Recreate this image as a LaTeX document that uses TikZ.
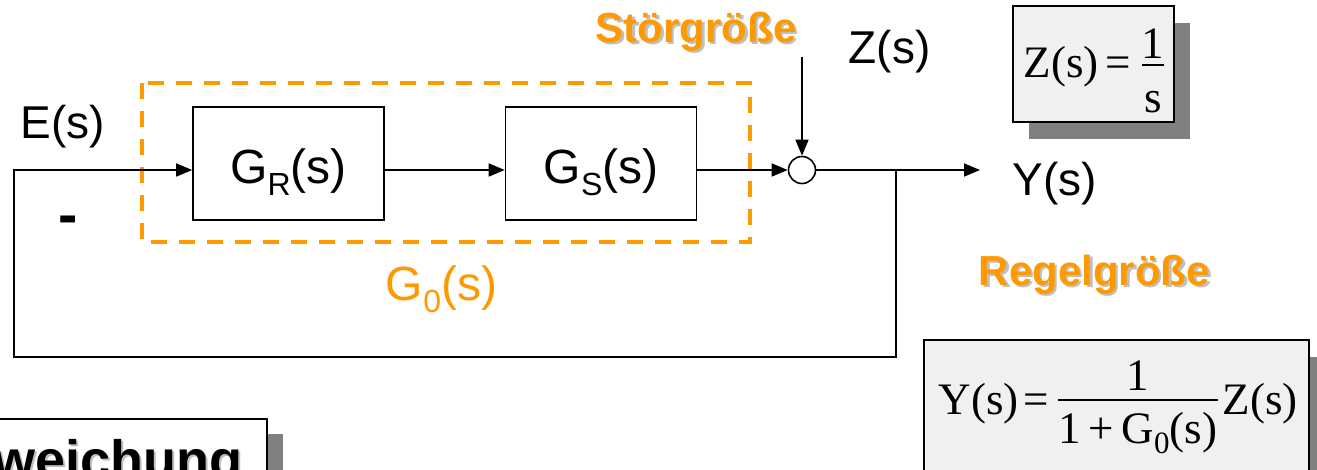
\documentclass[tikz,border=0pt]{standalone}
\usepackage{fontspec}
\setmainfont{Liberation Sans}
\newfontfamily\sansf{Liberation Sans}
\newfontfamily\serf{Liberation Serif}
\usetikzlibrary{arrows.meta,shadows}
\definecolor{orng}{HTML}{FF9900}
\definecolor{boxgray}{HTML}{F0F0F0}
\definecolor{shgray}{HTML}{808080}
\newcommand\mysub[1]{{\fontsize{32}{32}\selectfont\raisebox{-12pt}{#1}}}
\newcommand\fsub[1]{{\fontsize{31}{31}\selectfont\raisebox{-10pt}{#1}}}
\begin{document}
\begin{tikzpicture}[x=1pt,y=-1pt,line width=1.6pt,
  arr/.style={-{Triangle[length=16pt,width=13pt]}},
  block/.style={draw, minimum width=191pt, minimum height=113pt, inner sep=0pt},
  lbl/.style={font=\sansf\fontsize{46}{46}\selectfont, inner sep=0pt},
  blk/.style={font=\sansf\fontsize{48}{48}\selectfont, inner sep=0pt},
  otext/.style={font=\sansf\bfseries\fontsize{42}{42}\selectfont, inner sep=0pt, text=orng},
  otshadow/.style={font=\sansf\bfseries\fontsize{42}{42}\selectfont, inner sep=0pt, text=black, opacity=0.25},
  fml/.style={font=\serf\fontsize{45}{45}\selectfont, inner sep=0pt},
  fbox/.style={draw, line width=2pt, fill=boxgray, inner sep=0pt,
    drop shadow={shadow xshift=16pt, shadow yshift=-17pt, fill=shgray, opacity=1}},
  groupbox/.style={draw=orng, line width=4pt, dash pattern=on 16pt off 12pt}
]
\useasboundingbox (0,0) rectangle (1317,469);
\clip (0,0) rectangle (1317,469);

% group box G0
\draw[groupbox] (142,83) rectangle (750,242);

% blocks
\node[block] (gr) at (288.5,163.5) {};
\node[block] (gs) at (601,163.5) {};
\node[blk, anchor=base] (grt) at (288.5,183) {G\mysub{R}(s)};
\node[blk, anchor=base] (gst) at (601,183) {G\mysub{S}(s)};
\node[draw, circle, minimum size=27pt, inner sep=0pt] (sum) at (802,170) {};

% coordinates
\coordinate (br) at (896,170);
\coordinate (fb1) at (896,357);
\coordinate (fb2) at (14,357);
\coordinate (fb3) at (14,170);
\coordinate (yout) at (980,170);
\coordinate (ztop) at (802,57);

% connectors
\draw[arr] (br) -- (fb1) -- (fb2) -- (fb3) -- (fb3 -| gr.west);
\draw[arr] (gr.east |- fb3) -- (gs.west |- fb3);
\draw[arr] (gs.east |- fb3) -- (sum.west);
\draw[arr] (ztop) -- (sum.north);
\draw[arr] (sum.east) -- (yout);

% labels
\node[lbl, anchor=base west] (e) at (20,138) {E(s)};
\node[lbl, anchor=base west] (z) at (848,63) {Z(s)};
\node[lbl, anchor=base west] (y) at (1012,195) {Y(s)};
\node[font=\sansf\bfseries\fontsize{58}{58}\selectfont, inner sep=0pt] (minus) at (68,225) {-};
\node[blk, anchor=base, text=orng] (g0) at (441.5,300) {G\mysub{0}(s)};

% orange labels with shadow
\node[otshadow, anchor=base west] (st-sh) at (597.5,44.5) {Störgröße};
\node[otext, anchor=base west] (st) at (595,42) {Störgröße};
\node[otshadow, anchor=base west] (rg-sh) at (980.5,287.5) {Regelgröße};
\node[otext, anchor=base west] (rg) at (978,285) {Regelgröße};

% Z(s) = 1/s box
\node[fbox, minimum width=161pt, minimum height=116pt] (zbox) at (1093.5,64) {};
\node[fml, anchor=base west] (zf1) at (1023,77) {Z(s)};
\node[fml, anchor=base] (zf2) at (1118,77) {=};
\node[fml, anchor=base] (zf3) at (1153,58) {1};
\node[fml, anchor=base] (zf4) at (1153,112) {s};
\coordinate (zl1) at (1142,65);
\coordinate (zl2) at (1164,65);
\draw[line width=2pt] (zl1) -- (zl2);

% Y(s) formula box
\node[fbox, minimum width=385pt, minimum height=150pt] (ybox) at (1116.5,415) {};
\node[fml, anchor=base west] (yf1) at (938,414) {Y(s)};
\node[fml, anchor=base] (yf2) at (1036,414) {=};
\node[fml, anchor=base] (yf3) at (1138,390) {1};
\node[fml, anchor=base] (yf4) at (1138,443) {1\,+\,G\fsub{0}(s)};
\node[fml, anchor=base west] (yf5) at (1222,414) {Z(s)};
\coordinate (yl1) at (1058,400);
\coordinate (yl2) at (1218,400);
\draw[line width=2pt] (yl1) -- (yl2);

% Regelabweichung box (cut off at the picture's edge, as in the reference)
\node[draw, line width=2pt, fill=white, inner sep=0pt, minimum width=500pt, minimum height=120pt,
  drop shadow={shadow xshift=16pt, shadow yshift=-15pt, fill=shgray, opacity=1}] (rbox) at (17,479) {};
\node[font=\sansf\bfseries\fontsize{54}{54}\selectfont, inner sep=0pt, text=black, opacity=0.25, anchor=base east] (rw-sh) at (245.5,480.5) {weichung};
\node[font=\sansf\bfseries\fontsize{54}{54}\selectfont, inner sep=0pt, anchor=base east] (rw) at (243,478) {weichung};
\end{tikzpicture}
\end{document}
